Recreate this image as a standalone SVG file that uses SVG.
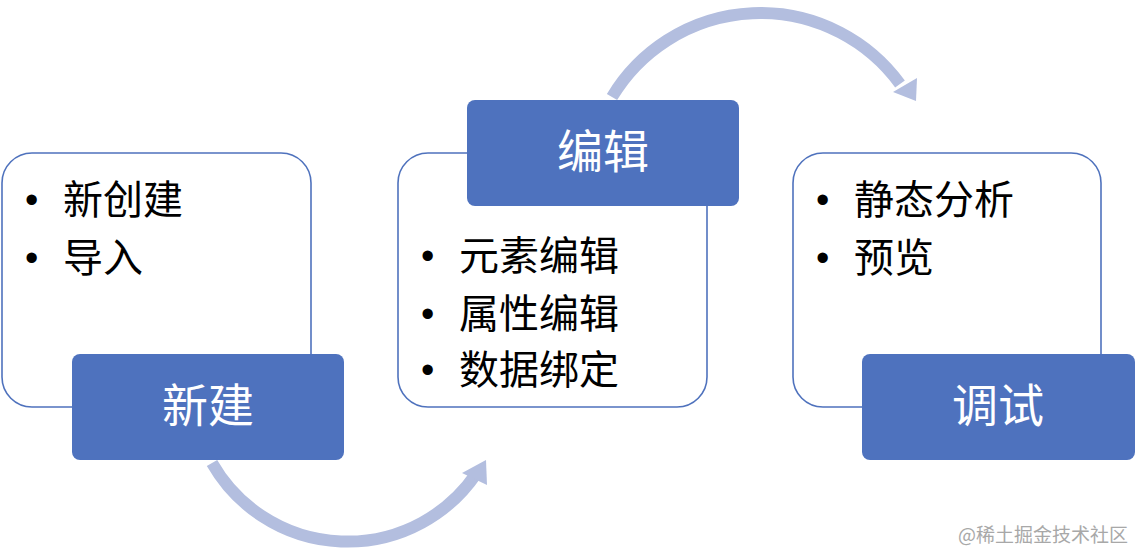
<svg xmlns="http://www.w3.org/2000/svg" width="1138" height="560" viewBox="0 0 1138 560">
<style>
.card{fill:#fff;stroke:#4F72BD;stroke-width:1.6}
.tab{fill:#4E72BE}
.item{font-family:"Noto Sans CJK SC","Liberation Sans",sans-serif;font-size:40px;fill:#000}
.bul{font-family:"Liberation Sans",sans-serif;font-size:38px;fill:#000}
.lbl{font-family:"Noto Sans CJK SC","Liberation Sans",sans-serif;font-size:46px;fill:#fff;text-anchor:middle}
.arc{fill:none;stroke:#B3BEDF;stroke-width:12}
.head{fill:#B3BEDF}
.wm{font-family:"Noto Sans CJK SC","Liberation Sans",sans-serif;font-size:19px;fill:#a8a8a8}
</style>
<rect width="1138" height="560" fill="#fff"/>
<g id="connectors">
<path class="arc" d="M612,97 A173,173 0 0 1 900,84"/>
<polygon class="head" points="893,92 917,78 916,101"/>
<path class="arc" d="M212,463 A156,156 0 0 0 476,474"/>
<polygon class="head" points="462,473 486,460 487,485"/>
</g>
<g id="node-new">
<rect class="card" x="2" y="153" width="309" height="254" rx="30"/>
<rect class="tab" x="72" y="354" width="272" height="106" rx="8"/>
<text class="lbl" x="208" y="422">新建</text>
<text class="bul" x="25" y="213">•</text><text class="item" x="63" y="214">新创建</text>
<text class="bul" x="25" y="271">•</text><text class="item" x="63" y="272">导入</text>
</g>
<g id="node-edit">
<rect class="card" x="398" y="153" width="309" height="254" rx="30"/>
<rect class="tab" x="467" y="100" width="272" height="106" rx="8"/>
<text class="lbl" x="603" y="168">编辑</text>
<text class="bul" x="421" y="269">•</text><text class="item" x="459" y="270">元素编辑</text>
<text class="bul" x="421" y="327">•</text><text class="item" x="459" y="328">属性编辑</text>
<text class="bul" x="421" y="383">•</text><text class="item" x="459" y="384">数据绑定</text>
</g>
<g id="node-debug">
<rect class="card" x="793" y="153" width="308" height="254" rx="30"/>
<rect class="tab" x="862" y="354" width="273" height="106" rx="8"/>
<text class="lbl" x="998" y="422">调试</text>
<text class="bul" x="816" y="213">•</text><text class="item" x="854" y="214">静态分析</text>
<text class="bul" x="816" y="271">•</text><text class="item" x="854" y="272">预览</text>
</g>
<text class="wm" x="958" y="542">@稀土掘金技术社区</text>
</svg>
